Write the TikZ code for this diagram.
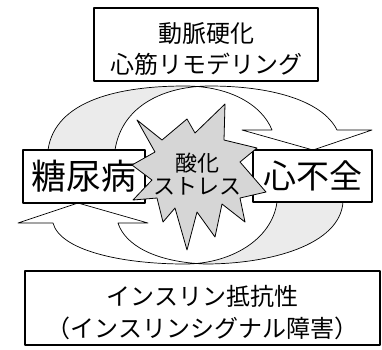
\documentclass[tikz,border=0pt]{standalone}
\usepackage{fontspec}
\newfontfamily\jp{Noto Sans CJK JP}
\begin{document}
\begin{tikzpicture}[x=1pt,y=-1pt,line join=round,
  box/.style={draw,line width=1.1pt,fill=white,inner sep=0pt,align=center},
  ribbon/.style={line width=0.7pt},
  frontface/.style={fill=black!8},
  burst/.style={draw,line width=0.8pt,fill=black!16}]
\useasboundingbox (0,0) rectangle (382,349);
% top ribbon arrow (diabetes -> heart failure)
\path[save path=\ribA] (48,150) .. controls (55,100) and (120,86) .. (185,86)
  .. controls (230,86) and (262,105) .. (272,130) -- (242,130) -- (313,150)
  -- (372,130) -- (337,130) .. controls (322,100) and (270,86) .. (210,86)
  .. controls (165,86) and (122,105) .. (115,150) -- cycle;
\fill[white,use path=\ribA];
\begin{scope}\clip (0,0) rectangle (195,160);
\fill[frontface,use path=\ribA];\end{scope}
\draw[ribbon,use path=\ribA];
% bottom ribbon arrow (heart failure -> diabetes)
\path[save path=\ribB] (277,202) .. controls (272,240) and (230,264) .. (185,264)
  .. controls (120,264) and (60,250) .. (53,223) -- (18,223) -- (78,203)
  -- (148,223) -- (118,223) .. controls (125,245) and (155,262) .. (205,264)
  .. controls (270,264) and (340,245) .. (343,202) -- cycle;
\fill[white,use path=\ribB];
\begin{scope}\clip (195,190) rectangle (382,280);
\fill[frontface,use path=\ribB];\end{scope}
\draw[ribbon,use path=\ribB];
% boxes
\node[box,minimum width=224pt,minimum height=73pt,
  font=\jp\fontsize{24}{31}\selectfont] (top) at (206,44.5) {\rule{0pt}{30pt}動脈硬化\\心筋リモデリング};
\node[box,minimum width=355pt,minimum height=74pt,
  font=\jp\fontsize{24}{32}\selectfont] (bot) at (202.5,308) {\rule{0pt}{30pt}インスリン抵抗性\\（インスリンシグナル障害）};
\node[box,minimum width=122pt,minimum height=53pt,
  font=\jp\fontsize{35}{40}\selectfont] (dm) at (84,176.5) {糖尿病};
\node[box,minimum width=119pt,minimum height=52pt,
  font=\jp\fontsize{33}{40}\selectfont] (hf) at (312.5,176) {心不全};
% oxidative stress burst
\draw[burst] (137,120) -- (162,140) -- (187,119) -- (195,133) -- (225,104)
  -- (224,140) -- (257,148) -- (240,162) -- (266,192) -- (240,198)
  -- (245,222) -- (222,204) -- (215,237) -- (197,212) -- (187,250)
  -- (175,208) -- (163,222) -- (157,198) -- (133,200) -- (152,180)
  -- (132,165) -- (155,152) -- cycle;
\node[inner sep=0pt,align=center,font=\jp\fontsize{22}{23}\selectfont] (ox) at (197,174) {酸化\\ストレス};
\end{tikzpicture}
\end{document}
